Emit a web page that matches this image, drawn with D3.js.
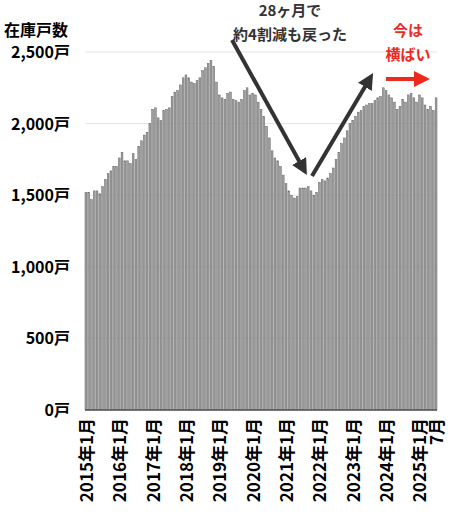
<!DOCTYPE html><html><head><meta charset="utf-8"><script src="https://cdn.jsdelivr.net/npm/d3@7"></script>
<style>body{margin:0;background:#fff}text{font-family:"Noto Sans CJK JP",sans-serif}</style></head><body><svg id="c" width="450" height="512"></svg><script>
const years=[2015,2016,2017,2018,2019,2020,2021,2022,2023,2024,2025];
const values=[
1520,1520,1470,1530,1530,1510,1560,1610,1650,1670,1700,1700,
1760,1800,1740,1740,1720,1790,1750,1840,1880,1920,1940,2000,
2100,2110,2040,2020,2090,2100,2110,2190,2220,2230,2270,2320,
2340,2320,2290,2280,2300,2320,2370,2390,2420,2440,2400,2290,
2200,2180,2170,2210,2220,2170,2160,2150,2170,2230,2250,2200,
2210,2200,2150,2100,2050,1980,1900,1810,1760,1740,1700,1640,
1580,1530,1500,1480,1490,1550,1550,1550,1560,1530,1500,1520,
1590,1610,1600,1620,1650,1690,1750,1800,1860,1900,1950,2000,
2020,2050,2080,2090,2120,2130,2140,2140,2160,2180,2190,2250,
2230,2200,2180,2150,2100,2120,2170,2150,2200,2210,2180,2150,
2200,2180,2130,2100,2120,2090,2180];
const yTicks=[0,500,1000,1500,2000,2500];
const svg=d3.select("#c");
const L=85,R=437,T=52,B=410;
const x=d3.scaleBand().domain(d3.range(values.length)).range([L,R]).paddingInner(0.35);
const y=d3.scaleLinear().domain([0,2500]).range([B,T]);
svg.append("g").selectAll("line").data(yTicks).join("line").attr("x1",L).attr("x2",R).attr("y1",d=>y(d)).attr("y2",d=>y(d)).attr("stroke","#e4e4e4");
svg.append("g").selectAll("rect").data(values).join("rect").attr("x",(d,i)=>x(i)).attr("width",x.bandwidth()).attr("y",d=>y(d)).attr("height",d=>B-y(d)).attr("fill","#a0a0a0").attr("stroke","#666").attr("stroke-width",0.5);
svg.append("line").attr("x1",L).attr("x2",R).attr("y1",B).attr("y2",B).attr("stroke","#555").attr("stroke-width",1.5);
svg.append("g").selectAll("text").data(yTicks).join("text").attr("x",70).attr("y",d=>y(d)+6).attr("text-anchor","end").attr("font-size",16).attr("font-weight","bold").text(d=>d3.format(",")(d)+"戸");
svg.append("text").attr("x",4).attr("y",36).attr("font-size",16).attr("font-weight","bold").text("在庫戸数");
svg.append("g").selectAll("text").data(years).join("text").attr("transform",(d,i)=>`translate(${x(i*12)+x.bandwidth()/2+7},418) rotate(-90)`).attr("text-anchor","end").attr("font-size",17).attr("font-weight","bold").text(d=>d+"年1月");
const li=values.length-1;
svg.append("text").attr("transform",`translate(${x(li)+x.bandwidth()/2+7},418) rotate(-90)`).attr("text-anchor","end").attr("font-size",17).attr("font-weight","bold").text("7月");
const defs=svg.append("defs");
[["ad","#333"],["ar","#ee2a1e"]].forEach(([id,c])=>defs.append("marker").attr("id",id).attr("viewBox","0 0 10 10").attr("refX",5).attr("refY",5).attr("markerWidth",4).attr("markerHeight",4).attr("orient","auto").append("path").attr("d","M0,0L10,5L0,10z").attr("fill",c));
svg.append("line").attr("x1",232).attr("y1",40).attr("x2",303).attr("y2",168).attr("stroke","#333").attr("stroke-width",4).attr("marker-end","url(#ad)");
svg.append("line").attr("x1",312).attr("y1",176).attr("x2",369).attr("y2",80).attr("stroke","#333").attr("stroke-width",4).attr("marker-end","url(#ad)");
svg.append("line").attr("x1",386).attr("y1",79).attr("x2",422).attr("y2",79).attr("stroke","#ee2a1e").attr("stroke-width",4).attr("marker-end","url(#ar)");
svg.append("text").attr("x",290).attr("y",16).attr("text-anchor","middle").attr("font-size",15).attr("font-weight","bold").attr("fill","#333").text("28ヶ月で");
svg.append("text").attr("x",290).attr("y",40).attr("text-anchor","middle").attr("font-size",15).attr("font-weight","bold").attr("fill","#333").text("約4割減も戻った");
svg.append("text").attr("x",408).attr("y",36).attr("text-anchor","middle").attr("font-size",15).attr("font-weight","bold").attr("fill","#ee2a1e").text("今は");
svg.append("text").attr("x",408).attr("y",60).attr("text-anchor","middle").attr("font-size",15).attr("font-weight","bold").attr("fill","#ee2a1e").text("横ばい");
</script></body></html>
